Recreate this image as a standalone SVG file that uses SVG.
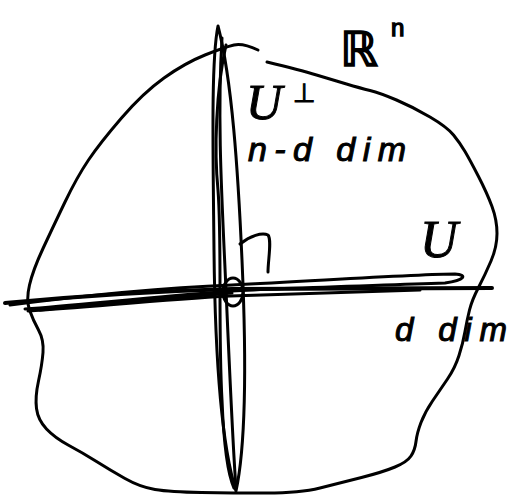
<svg xmlns="http://www.w3.org/2000/svg" width="511" height="495" viewBox="0 0 511 495">
<style>
.s{fill:none;stroke:#000;stroke-width:3;stroke-linecap:round;stroke-linejoin:round}
.t{fill:#000;stroke:#000;stroke-width:1}
</style>
<rect width="511" height="495" fill="#fff"/>
<g id="space-Rn">
<path class="s" d="M258,50 Q243,43 234,45 Q225,47 205,55 Q185,63 164,78 Q143,93 121.5,118 Q100,143 88.5,160 Q77,177 65,202 Q53,227 43,248.5 Q33,270 29.5,285 Q26,300 29.5,310 Q33,320 38.5,330 Q44,340 43,352.5 Q42,365 38.5,381 Q35,397 36.5,408.5 Q38,420 46.5,429 Q55,438 69,445.5 Q83,453 96.5,461.5 Q110,470 125,478.5 Q140,487 155,489.5 Q170,492 201.5,492.5 Q233,493 266.5,493 Q300,493 320,488 Q340,483 361.5,477.5 Q383,472 395,467 Q407,462 411,456 Q415,450 416,441.5 Q417,433 421,422.5 Q425,412 432.5,401 Q440,390 447.5,379 Q455,368 459,355.5 Q463,343 465,331.5 Q467,320 469.5,310 Q472,300 478.5,287.5 Q485,275 491,261 Q497,247 497,233.5 Q497,220 492,206.5 Q487,193 478.5,176.5 Q470,160 465,151.5 Q460,143 453.5,135 Q447,127 430,117 Q413,107 396.5,100 Q380,93 370,90.5 Q360,88 346.5,84 Q333,80 316.5,75 Q300,70 267,62"/>
<text class="t" x="340" y="66" font-family="DejaVu Sans, sans-serif" font-size="48" style="stroke-width:1.6">ℝ</text>
<text class="t" x="391" y="36" font-family="Liberation Sans, sans-serif" font-size="24" style="stroke-width:1.4">n</text>
</g>
<g id="subspace-U-perp">
<path class="s" d="M218,26 C211,60 213,150 214,250 C215,350 220,440 236,491 C247,440 246,350 242,260 C238,170 232,80 218,26 Z"/>
<path class="s" d="M222,38 C217,120 222,200 226,290 C230,380 233,450 236,488"/>
<path class="s" d="M226,45 C216,90 214,150 218,190 C222,240 218,330 222,400 C224,450 228,475 234,488"/>
<text class="t" x="246" y="119" font-family="Liberation Serif, serif" font-style="italic" font-size="50">U</text>
<text class="t" x="293" y="102" font-family="DejaVu Sans, sans-serif" font-size="26">⊥</text>
<text class="t" x="248" y="161" font-family="Liberation Sans, sans-serif" font-style="italic" font-size="34" textLength="158" lengthAdjust="spacing">n-d dim</text>
</g>
<g id="subspace-U">
<path class="s" style="stroke-width:4" d="M5,303 C80,296 160,291 232,289 L492,288"/>
<path class="s" d="M10,305 C80,296 160,288 232,285 C330,280 420,274 455,274 C468,275 465,280 445,283 C360,286 280,288 232,291 C150,297 80,305 25,309"/>
<path class="s" d="M28,311 C90,307 160,300 230,296 L420,290"/>
<path class="s" d="M40,310 C100,304 170,298 232,293"/>
<text class="t" x="420" y="257" font-family="Liberation Serif, serif" font-style="italic" font-size="52">U</text>
<text class="t" x="395" y="341" font-family="Liberation Sans, sans-serif" font-style="italic" font-size="33" textLength="112" lengthAdjust="spacing">d dim</text>
</g>
<g id="connectors">
<ellipse class="s" cx="233" cy="292" rx="10" ry="14"/>
<path class="s" d="M240,244 C250,236 262,232 268,235 C272,240 268,260 268,272"/>
</g>
</svg>
